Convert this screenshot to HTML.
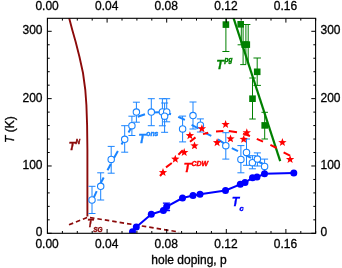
<!DOCTYPE html>
<html><head><meta charset="utf-8"><title>Phase diagram</title>
<style>
html,body{margin:0;padding:0;background:#fff;}
svg{display:block;}
text{font-family:"Liberation Sans",sans-serif;}
.tk{font-size:12px;fill:#000;stroke:#000;stroke-width:0.3px;}
.lb{font-weight:bold;font-style:italic;font-size:11.5px;}
.sp{font-weight:bold;font-style:italic;font-size:7px;}
</style></head><body>
<svg width="342" height="268" viewBox="0 0 342 268">
<rect width="342" height="268" fill="#fff"/>
<defs><clipPath id="c"><rect x="47.4" y="18.3" width="268.20000000000005" height="215.0"/></clipPath></defs>
<g clip-path="url(#c)">
<polyline fill="none" stroke="#8b0a0a" stroke-width="1.9" stroke-linejoin="round" points="69,17.5 72.3,30 75.7,42 79.5,57 83,73 85.3,90 86.4,105 87.1,125 87.4,150 87.4,216.5"/>
<polyline fill="none" stroke="#8b0a0a" stroke-width="1.7" stroke-dasharray="4.5 3" points="69,224.8 87.8,217.2 179,232"/>
<line x1="233.2" y1="17" x2="280.2" y2="161.1" stroke="#008000" stroke-width="2.2"/>
<path fill="none" stroke="#008000" stroke-width="1" d="M225.9,0V51.5M222.4,0H229.4M222.4,51.5H229.4"/>
<path fill="none" stroke="#008000" stroke-width="1" d="M243.1,24.5V64.6M240.2,64.6H246.0"/>
<path fill="none" stroke="#008000" stroke-width="1" d="M241.3,24.5V44.8M237.60000000000002,44.8H245.0"/>
<path fill="none" stroke="#008000" stroke-width="1" d="M245.9,24.5V64.6M243.70000000000002,24.5H248.1"/>
<path fill="none" stroke="#008000" stroke-width="1" d="M248.2,24.5V64.6M246.0,24.5H250.39999999999998"/>
<path fill="none" stroke="#008000" stroke-width="1" d="M257.2,58V85.4M253.45,58H260.95M253.45,85.4H260.95"/>
<path fill="none" stroke="#008000" stroke-width="1" d="M252.5,78V119M249.25,78H255.75M249.25,119H255.75"/>
<path fill="none" stroke="#008000" stroke-width="1" d="M264.7,112.3V139M261.45,112.3H267.95M261.45,139H267.95"/>
<rect x="222.6" y="21.3" width="6.6" height="6.6" fill="#008000"/>
<rect x="237.39999999999998" y="21.0" width="6.6" height="6.6" fill="#008000"/>
<rect x="241.39999999999998" y="41.300000000000004" width="6.6" height="6.6" fill="#008000"/>
<rect x="243.5" y="41.300000000000004" width="6.6" height="6.6" fill="#008000"/>
<rect x="253.89999999999998" y="68.5" width="6.6" height="6.6" fill="#008000"/>
<rect x="249.2" y="95.4" width="6.6" height="6.6" fill="#008000"/>
<rect x="261.4" y="122.10000000000001" width="6.6" height="6.6" fill="#008000"/>
<path fill="none" stroke="#1a84ff" stroke-width="2" d="M93.2,198.8L96.7,191.2M100.2,184L103.7,177.5M107.5,170.3L110.8,164M113.7,158.5L117.9,150.9M121.5,144.6L125,138.5M128.5,132.4L131,128M137.7,116.8L145,114.3M152.5,112.4L159,112.2M165,112.4L171,114.3M178.2,116.8L184.9,119.9M191.6,124.9L198.3,128.3M205,132.8L211.3,135.8M217.9,139.4L224.5,143.6M231.8,148.2L238,151.2M244.5,154.6L251,157.8M257.5,161L264,164.5"/><path fill="none" stroke="#ff0000" stroke-width="2" d="M160,176L163,172.4M166,167.4L171.8,163M178.4,154.7L182.8,150.3M190,141.8L195.5,137.4M203,134.1L208.2,132.7M216,131.4L223.4,131M228.8,131L237,132.3M243,133.6L250,136M256.8,138.9L263,141.6M270.4,144.8L276.6,148M283.6,152.3L290,155.6"/><polyline fill="none" stroke="#0000ff" stroke-width="2" stroke-linejoin="round" points="132.5,231.8 136.3,227 151.3,214.3 163.4,210.5 166.7,206.6 182.5,198 193,195.5 200,194.3 225.5,190.5 240.3,184.3 245,182.5 252.5,177.8 257,177 264.5,173.8 293.8,173"/>
<path fill="none" stroke="#0000ff" stroke-width="1.3" d="M166.5,203.2V210.5M162.9,203.2H170.1M162.9,210.5H170.1"/>
<path fill="none" stroke="#1a84ff" stroke-width="1" d="M92,186.3V213.5M88.5,186.3H95.5M88.5,213.5H95.5"/>
<path fill="none" stroke="#1a84ff" stroke-width="1" d="M100.7,172.8V200M97.2,172.8H104.2M97.2,200H104.2"/>
<path fill="none" stroke="#1a84ff" stroke-width="1" d="M111.2,146.4V173.2M107.7,146.4H114.7M107.7,173.2H114.7"/>
<path fill="none" stroke="#1a84ff" stroke-width="1" d="M124.7,125.7V152.2M121.2,125.7H128.2M121.2,152.2H128.2"/>
<path fill="none" stroke="#1a84ff" stroke-width="1" d="M131.9,116.2V135.5M128.4,116.2H135.4M128.4,135.5H135.4"/>
<path fill="none" stroke="#1a84ff" stroke-width="1" d="M136.4,102.2V122.2M132.9,102.2H139.9M132.9,122.2H139.9"/>
<path fill="none" stroke="#1a84ff" stroke-width="1" d="M151.3,98.7V125.7M147.8,98.7H154.8M147.8,125.7H154.8"/>
<path fill="none" stroke="#1a84ff" stroke-width="1" d="M162.4,98.7V125.8M158.9,98.7H165.9M158.9,125.8H165.9"/>
<path fill="none" stroke="#1a84ff" stroke-width="1" d="M166.7,98.7V121.8M163.2,98.7H170.2M163.2,121.8H170.2"/>
<path fill="none" stroke="#1a84ff" stroke-width="1" d="M164.6,103V132.3M161.1,103H168.1M161.1,132.3H168.1"/>
<path fill="none" stroke="#1a84ff" stroke-width="1" d="M182.6,116.1V141.9M179.1,116.1H186.1M179.1,141.9H186.1"/>
<path fill="none" stroke="#1a84ff" stroke-width="1" d="M193,102V129M189.5,102H196.5M189.5,129H196.5"/>
<path fill="none" stroke="#1a84ff" stroke-width="1" d="M200.4,118.9V132M196.9,118.9H203.9M196.9,132H203.9"/>
<path fill="none" stroke="#1a84ff" stroke-width="1" d="M225.8,132.7V159.1M222.3,132.7H229.3M222.3,159.1H229.3"/>
<path fill="none" stroke="#1a84ff" stroke-width="1" d="M246.5,139V165.3M243.0,139H250.0M243.0,165.3H250.0"/>
<path fill="none" stroke="#1a84ff" stroke-width="1" d="M240.9,145.6V172.8M237.4,145.6H244.4M237.4,172.8H244.4"/>
<path fill="none" stroke="#1a84ff" stroke-width="1" d="M252.4,155.7V168.8M248.9,155.7H255.9M248.9,168.8H255.9"/>
<path fill="none" stroke="#1a84ff" stroke-width="1" d="M257.4,152.9V166M253.89999999999998,152.9H260.9M253.89999999999998,166H260.9"/>
<path fill="none" stroke="#1a84ff" stroke-width="1" d="M264.6,159.1V173.5M261.1,159.1H268.1M261.1,173.5H268.1"/>
<circle cx="92" cy="200" r="3.2" fill="#fff" stroke="#1a84ff" stroke-width="1.1"/>
<circle cx="100.7" cy="186.3" r="3.2" fill="#fff" stroke="#1a84ff" stroke-width="1.1"/>
<circle cx="111.2" cy="159.4" r="3.2" fill="#fff" stroke="#1a84ff" stroke-width="1.1"/>
<circle cx="124.7" cy="139.3" r="3.2" fill="#fff" stroke="#1a84ff" stroke-width="1.1"/>
<circle cx="131.9" cy="125.7" r="3.2" fill="#fff" stroke="#1a84ff" stroke-width="1.1"/>
<circle cx="136.4" cy="112.1" r="3.2" fill="#fff" stroke="#1a84ff" stroke-width="1.1"/>
<circle cx="151.3" cy="112.1" r="3.2" fill="#fff" stroke="#1a84ff" stroke-width="1.1"/>
<circle cx="162.4" cy="111.9" r="3.2" fill="#fff" stroke="#1a84ff" stroke-width="1.1"/>
<circle cx="166.7" cy="111.9" r="3.2" fill="#fff" stroke="#1a84ff" stroke-width="1.1"/>
<circle cx="164.6" cy="116.2" r="3.2" fill="#fff" stroke="#1a84ff" stroke-width="1.1"/>
<circle cx="182.6" cy="128.9" r="3.2" fill="#fff" stroke="#1a84ff" stroke-width="1.1"/>
<circle cx="193" cy="115.6" r="3.2" fill="#fff" stroke="#1a84ff" stroke-width="1.1"/>
<circle cx="200.4" cy="125.2" r="3.2" fill="#fff" stroke="#1a84ff" stroke-width="1.1"/>
<circle cx="225.8" cy="145.7" r="3.2" fill="#fff" stroke="#1a84ff" stroke-width="1.1"/>
<circle cx="246.5" cy="152.4" r="3.2" fill="#fff" stroke="#1a84ff" stroke-width="1.1"/>
<circle cx="240.9" cy="159.4" r="3.2" fill="#fff" stroke="#1a84ff" stroke-width="1.1"/>
<circle cx="252.4" cy="162.7" r="3.2" fill="#fff" stroke="#1a84ff" stroke-width="1.1"/>
<circle cx="257.4" cy="159.1" r="3.2" fill="#fff" stroke="#1a84ff" stroke-width="1.1"/>
<circle cx="264.6" cy="166.4" r="3.2" fill="#fff" stroke="#1a84ff" stroke-width="1.1"/>
<polygon fill="#ff0000" points="163.00,168.10 164.09,171.00 167.18,171.14 164.76,173.07 165.59,176.06 163.00,174.35 160.41,176.06 161.24,173.07 158.82,171.14 161.91,171.00"/>
<polygon fill="#ff0000" points="175.30,154.70 176.39,157.60 179.48,157.74 177.06,159.67 177.89,162.66 175.30,160.95 172.71,162.66 173.54,159.67 171.12,157.74 174.21,157.60"/>
<polygon fill="#ff0000" points="184.20,148.00 185.29,150.90 188.38,151.04 185.96,152.97 186.79,155.96 184.20,154.25 181.61,155.96 182.44,152.97 180.02,151.04 183.11,150.90"/>
<polygon fill="#ff0000" points="194.50,141.40 195.59,144.30 198.68,144.44 196.26,146.37 197.09,149.36 194.50,147.65 191.91,149.36 192.74,146.37 190.32,144.44 193.41,144.30"/>
<polygon fill="#ff0000" points="189.90,131.20 190.99,134.10 194.08,134.24 191.66,136.17 192.49,139.16 189.90,137.45 187.31,139.16 188.14,136.17 185.72,134.24 188.81,134.10"/>
<polygon fill="#ff0000" points="201.90,124.30 202.99,127.20 206.08,127.34 203.66,129.27 204.49,132.26 201.90,130.55 199.31,132.26 200.14,129.27 197.72,127.34 200.81,127.20"/>
<polygon fill="#ff0000" points="225.60,120.00 226.69,122.90 229.78,123.04 227.36,124.97 228.19,127.96 225.60,126.25 223.01,127.96 223.84,124.97 221.42,123.04 224.51,122.90"/>
<polygon fill="#ff0000" points="217.10,138.20 218.19,141.10 221.28,141.24 218.86,143.17 219.69,146.16 217.10,144.45 214.51,146.16 215.34,143.17 212.92,141.24 216.01,141.10"/>
<polygon fill="#ff0000" points="230.50,134.40 231.59,137.30 234.68,137.44 232.26,139.37 233.09,142.36 230.50,140.65 227.91,142.36 228.74,139.37 226.32,137.44 229.41,137.30"/>
<polygon fill="#ff0000" points="243.70,134.90 244.79,137.80 247.88,137.94 245.46,139.87 246.29,142.86 243.70,141.15 241.11,142.86 241.94,139.87 239.52,137.94 242.61,137.80"/>
<polygon fill="#ff0000" points="246.80,128.30 247.89,131.20 250.98,131.34 248.56,133.27 249.39,136.26 246.80,134.55 244.21,136.26 245.04,133.27 242.62,131.34 245.71,131.20"/>
<polygon fill="#ff0000" points="282.40,138.10 283.49,141.00 286.58,141.14 284.16,143.07 284.99,146.06 282.40,144.35 279.81,146.06 280.64,143.07 278.22,141.14 281.31,141.00"/>
<polygon fill="#ff0000" points="290.10,155.00 291.19,157.90 294.28,158.04 291.86,159.97 292.69,162.96 290.10,161.25 287.51,162.96 288.34,159.97 285.92,158.04 289.01,157.90"/>
<circle cx="132.5" cy="231.8" r="3.5" fill="#0000ff"/>
<circle cx="136.3" cy="227" r="3.5" fill="#0000ff"/>
<circle cx="151.3" cy="214.3" r="3.5" fill="#0000ff"/>
<circle cx="163.4" cy="210.5" r="3.5" fill="#0000ff"/>
<circle cx="166.7" cy="206.6" r="3.5" fill="#0000ff"/>
<circle cx="182.5" cy="198" r="3.5" fill="#0000ff"/>
<circle cx="193" cy="195.5" r="3.5" fill="#0000ff"/>
<circle cx="200" cy="194.3" r="3.5" fill="#0000ff"/>
<circle cx="225.5" cy="190.5" r="3.5" fill="#0000ff"/>
<circle cx="240.3" cy="184.3" r="3.5" fill="#0000ff"/>
<circle cx="245" cy="182.5" r="3.5" fill="#0000ff"/>
<circle cx="252.5" cy="177.8" r="3.5" fill="#0000ff"/>
<circle cx="257" cy="177" r="3.5" fill="#0000ff"/>
<circle cx="264.5" cy="173.8" r="3.5" fill="#0000ff"/>
<circle cx="293.8" cy="173" r="3.5" fill="#0000ff"/>
</g>
<rect x="47.4" y="18.3" width="268.20000000000005" height="215.0" fill="none" stroke="#000" stroke-width="1.1"/>
<path d="M47.50,233.3v-4.3M47.50,18.3v4.3M62.40,233.3v-2.3M62.40,18.3v2.3M77.30,233.3v-2.3M77.30,18.3v2.3M92.20,233.3v-2.3M92.20,18.3v2.3M107.10,233.3v-4.3M107.10,18.3v4.3M122.00,233.3v-2.3M122.00,18.3v2.3M136.90,233.3v-2.3M136.90,18.3v2.3M151.80,233.3v-2.3M151.80,18.3v2.3M166.70,233.3v-4.3M166.70,18.3v4.3M181.60,233.3v-2.3M181.60,18.3v2.3M196.50,233.3v-2.3M196.50,18.3v2.3M211.40,233.3v-2.3M211.40,18.3v2.3M226.30,233.3v-4.3M226.30,18.3v4.3M241.20,233.3v-2.3M241.20,18.3v2.3M256.10,233.3v-2.3M256.10,18.3v2.3M271.00,233.3v-2.3M271.00,18.3v2.3M285.90,233.3v-4.3M285.90,18.3v4.3M300.80,233.3v-2.3M300.80,18.3v2.3M315.70,233.3v-2.3M315.70,18.3v2.3M47.4,233.30h4.3M315.6,233.30h-4.3M47.4,219.83h2.3M315.6,219.83h-2.3M47.4,206.37h2.3M315.6,206.37h-2.3M47.4,192.90h2.3M315.6,192.90h-2.3M47.4,179.44h2.3M315.6,179.44h-2.3M47.4,165.97h4.3M315.6,165.97h-4.3M47.4,152.50h2.3M315.6,152.50h-2.3M47.4,139.04h2.3M315.6,139.04h-2.3M47.4,125.57h2.3M315.6,125.57h-2.3M47.4,112.11h2.3M315.6,112.11h-2.3M47.4,98.64h4.3M315.6,98.64h-4.3M47.4,85.17h2.3M315.6,85.17h-2.3M47.4,71.71h2.3M315.6,71.71h-2.3M47.4,58.24h2.3M315.6,58.24h-2.3M47.4,44.78h2.3M315.6,44.78h-2.3M47.4,31.31h4.3M315.6,31.31h-4.3" fill="none" stroke="#000" stroke-width="1"/>
<text class="tk" x="47.1" y="10.3" text-anchor="middle">0.00</text>
<text class="tk" x="47.1" y="247.6" text-anchor="middle">0.00</text>
<text class="tk" x="106.7" y="10.3" text-anchor="middle">0.04</text>
<text class="tk" x="106.7" y="247.6" text-anchor="middle">0.04</text>
<text class="tk" x="166.3" y="10.3" text-anchor="middle">0.08</text>
<text class="tk" x="166.3" y="247.6" text-anchor="middle">0.08</text>
<text class="tk" x="225.9" y="10.3" text-anchor="middle">0.12</text>
<text class="tk" x="225.9" y="247.6" text-anchor="middle">0.12</text>
<text class="tk" x="285.5" y="10.3" text-anchor="middle">0.16</text>
<text class="tk" x="285.5" y="247.6" text-anchor="middle">0.16</text>
<text class="tk" x="42.5" y="236.4" text-anchor="end">0</text>
<text class="tk" x="320.5" y="236.4" text-anchor="start">0</text>
<text class="tk" x="42.5" y="169.1" text-anchor="end">100</text>
<text class="tk" x="320.5" y="169.1" text-anchor="start">100</text>
<text class="tk" x="42.5" y="101.7" text-anchor="end">200</text>
<text class="tk" x="320.5" y="101.7" text-anchor="start">200</text>
<text class="tk" x="42.5" y="34.4" text-anchor="end">300</text>
<text class="tk" x="320.5" y="34.4" text-anchor="start">300</text>
<text class="tk" x="189" y="264.2" text-anchor="middle">hole doping, p</text>
<text class="tk" transform="translate(14.2,143) rotate(-90)"><tspan font-style="italic">T</tspan> (K)</text>
<text class="lb" fill="#8b0a0a" stroke="#8b0a0a" stroke-width="0.3"><tspan x="68.6" y="149.6" font-size="11.8px">T</tspan><tspan x="75.6" y="144" font-size="6.4px" stroke-width="0.45">N</tspan></text>
<text class="lb" fill="#8b0a0a" stroke="#8b0a0a" stroke-width="0.3"><tspan x="87.2" y="227.3" font-size="10px">T</tspan><tspan x="93.2" y="232" font-size="6.4px" stroke-width="0.45">SG</tspan></text>
<text class="lb" fill="#1a84ff" stroke="#1a84ff" stroke-width="0.3"><tspan x="138.2" y="142.7" font-size="12.3px">T</tspan><tspan x="146.3" y="136" font-size="6.8px" stroke-width="0.45">ons</tspan></text>
<text class="lb" fill="#ff0000" stroke="#ff0000" stroke-width="0.3"><tspan x="183.5" y="172" font-size="12.5px">T</tspan><tspan x="191.5" y="165.8" font-size="7px" stroke-width="0.45">CDW</tspan></text>
<text class="lb" fill="#008000" stroke="#008000" stroke-width="0.3"><tspan x="216.2" y="68.5" font-size="12.3px">T</tspan><tspan x="224.6" y="62.3" font-size="6.4px" stroke-width="0.45">pg</tspan></text>
<text class="lb" fill="#0000ff" stroke="#0000ff" stroke-width="0.3"><tspan x="231.8" y="205.6" font-size="12.2px">T</tspan><tspan x="239.5" y="211" font-size="7.6px" stroke-width="0.45">c</tspan></text>
</svg>
</body></html>
